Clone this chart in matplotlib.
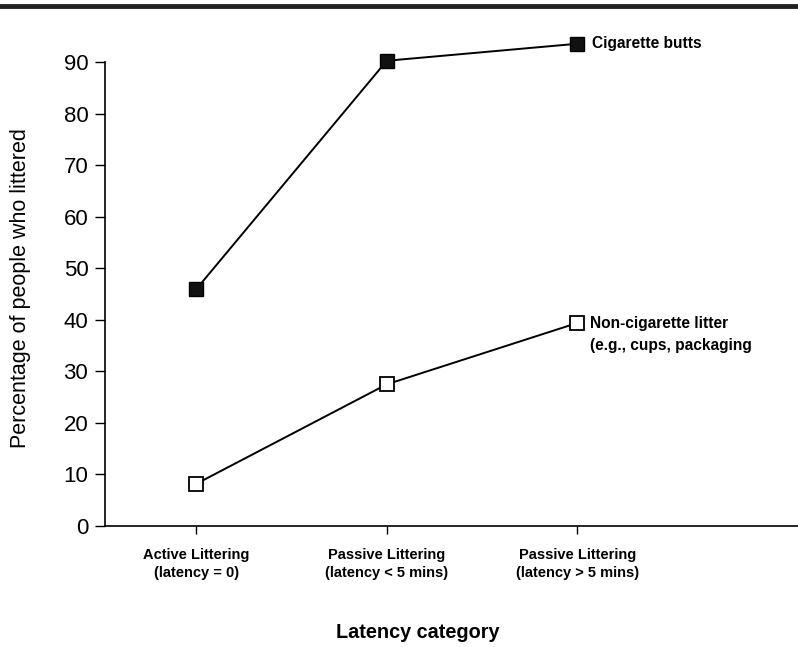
import matplotlib.pyplot as plt

# datos
categorias = ['Active Littering\n(latency = 0)',
              'Passive Littering\n(latency < 5 mins)',
              'Passive Littering\n(latency > 5 mins)']
colillas = [46, 90.3, 93.6]
otra_basura = [8.2, 27.5, 39.4]
etiqueta_colillas = 'Cigarette butts'
etiqueta_otra = 'Non-cigarette litter\n(e.g., cups, packaging'

plt.rcParams['font.family'] = ['Liberation Sans', 'DejaVu Sans']

fig = plt.figure(figsize=(7.98, 6.47), dpi=100)
ax = fig.add_axes([0.1316, 0.187, 0.8684, 0.7167])

x = list(range(len(categorias)))
ax.plot(x, colillas, color='black', lw=1.4, marker='s', markersize=10,
        markerfacecolor='#111111', markeredgecolor='black', clip_on=False, zorder=3)
ax.plot(x, otra_basura, color='black', lw=1.4, marker='s', markersize=10,
        markerfacecolor='white', markeredgecolor='black', markeredgewidth=1.3,
        clip_on=False, zorder=3)

ax.text(x[-1] + 0.08, colillas[-1], etiqueta_colillas, fontsize=11.2,
        fontweight='bold', va='center', ha='left')
ax.text(x[-1] + 0.07, otra_basura[-1] + 1.3, etiqueta_otra, fontsize=11.2,
        fontweight='bold', va='top', ha='left', linespacing=1.55)

ax.set_xlim(-0.48, 3.16)
ax.set_ylim(0, 90)
ax.set_yticks(range(0, 91, 10))
ax.set_xticks(x)
ax.set_xticklabels(categorias, fontsize=10.5, fontweight='bold', linespacing=1.35)
ax.tick_params(axis='y', labelsize=16, length=7, width=1, direction='out', pad=5)
ax.tick_params(axis='x', length=6, width=1, direction='out', pad=10)

for lado in ['top', 'right']:
    ax.spines[lado].set_visible(False)
ax.spines['left'].set_linewidth(1.2)
ax.spines['bottom'].set_linewidth(1.2)

# títulos de ejes colocados a mano en coordenadas de figura
fig.text(0.026, 1 - 288 / 647, 'Percentage of people who littered', fontsize=15.5,
         rotation=90, va='center', ha='center')
fig.text(418 / 798, 1 - 633 / 647, 'Latency category', fontsize=14.3,
         fontweight='bold', va='center', ha='center')

# línea gruesa superior
fig.add_artist(plt.Line2D([0, 1], [0.991, 0.991], color='#222222', lw=3.5,
                          transform=fig.transFigure))

fig.savefig('out.png', dpi=100)
